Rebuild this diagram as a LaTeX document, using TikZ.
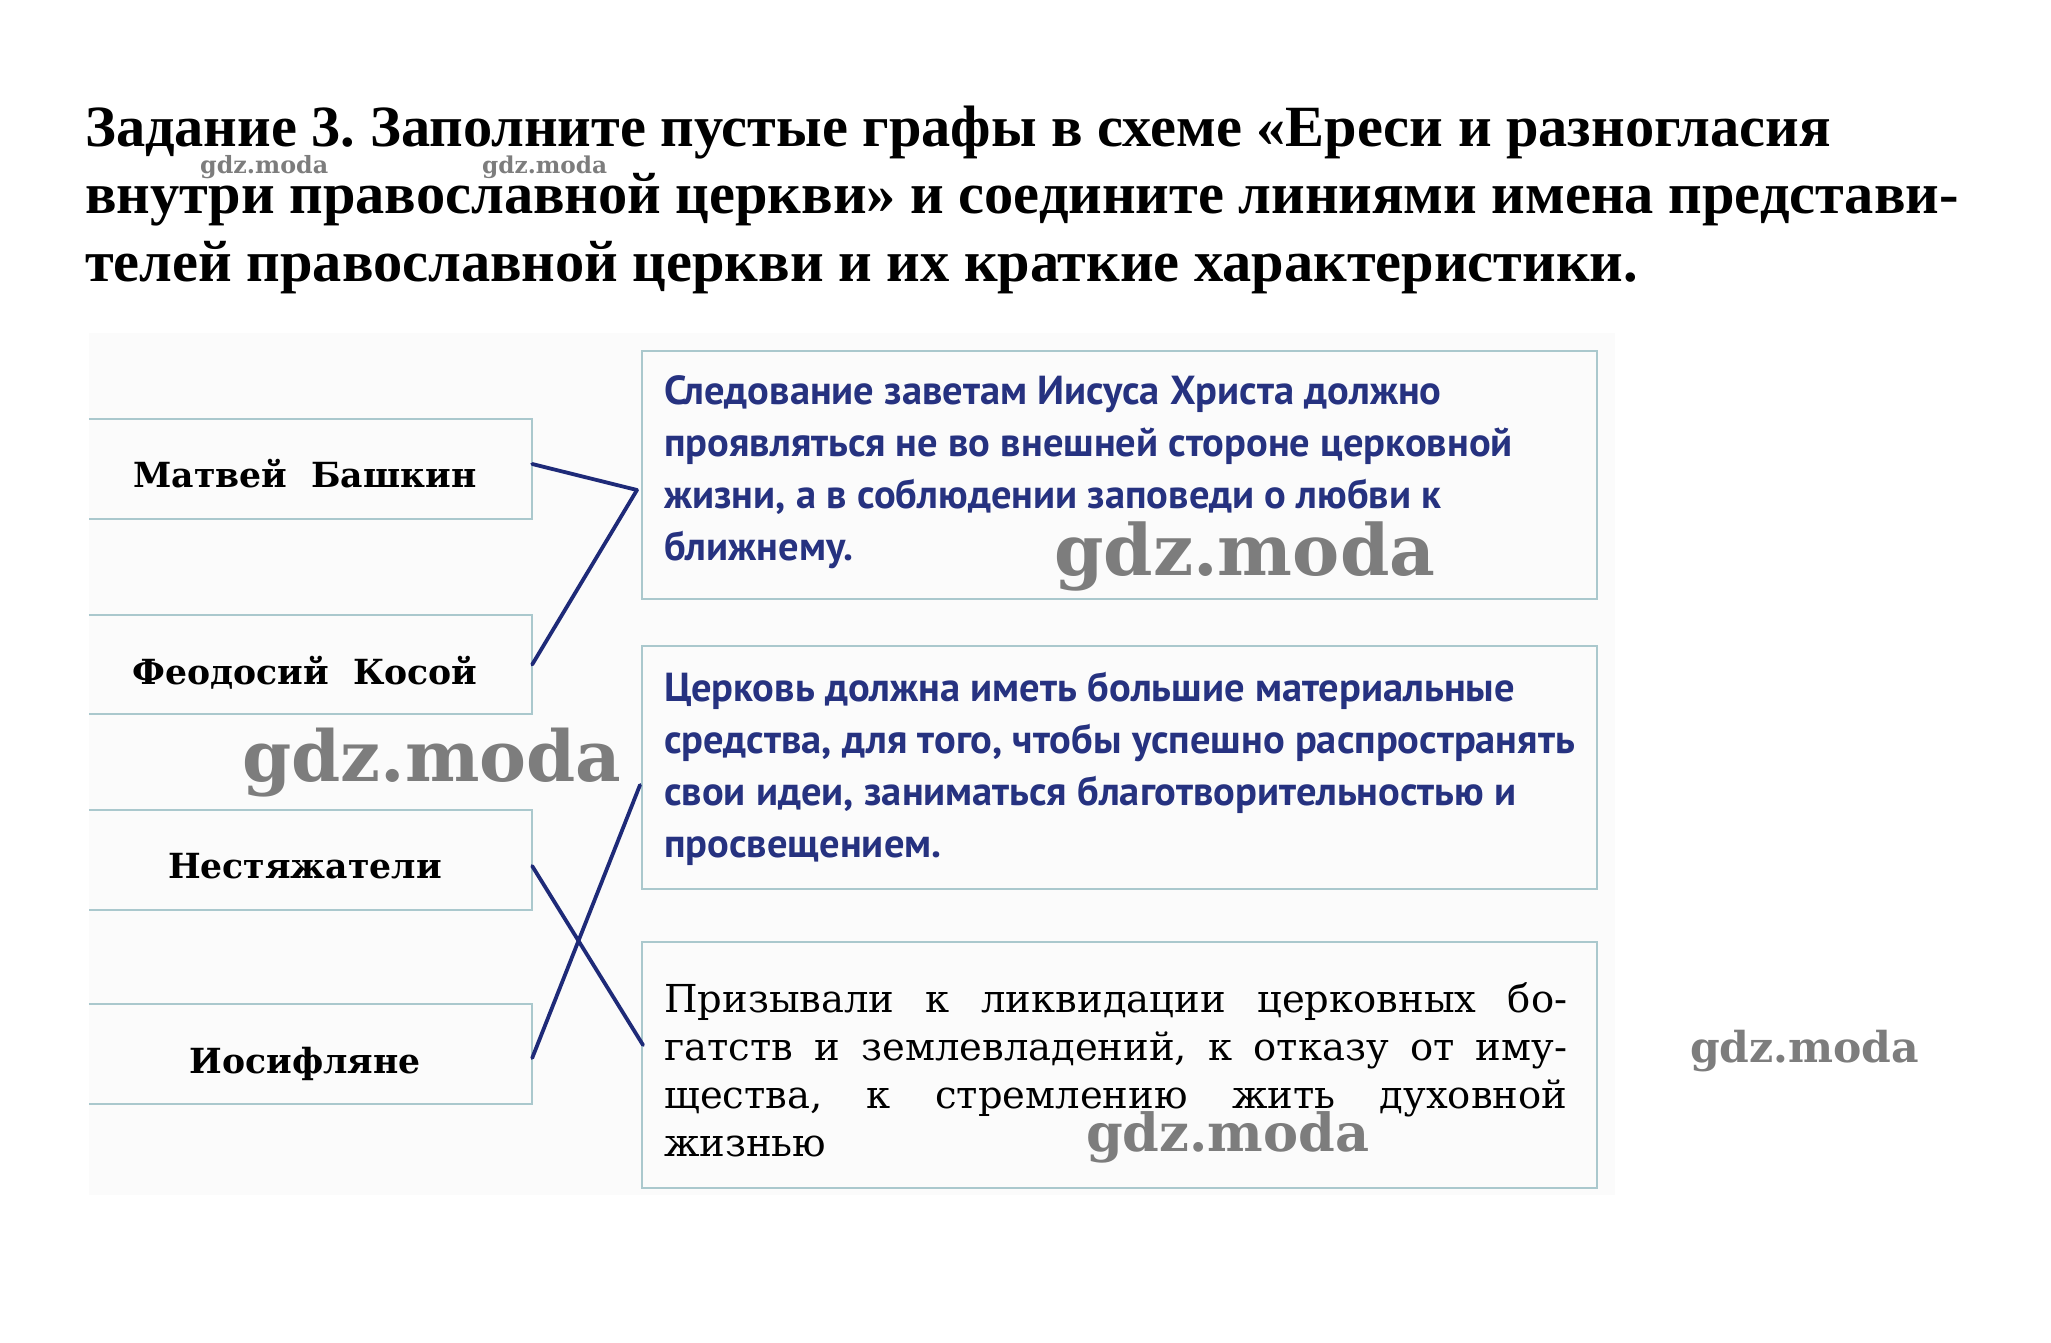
\documentclass[tikz,border=0pt]{standalone}
\usepackage{fontspec}
\setmainfont{Liberation Serif}
\newfontfamily\titlefont{Liberation Serif}
\newfontfamily\namefont{DejaVu Serif}
\newfontfamily\bluefont{PT Sans}
\newfontfamily\wmfont{DejaVu Serif}
\definecolor{boxcol}{RGB}{170,200,205}
\definecolor{bluetext}{RGB}{38,50,128}
\definecolor{linkcol}{RGB}{30,42,120}
\definecolor{bgcol}{RGB}{251,251,251}
\definecolor{wmcol}{RGB}{125,125,125}
\frenchspacing
\tikzset{
  leftbox/.style={minimum width=443pt, minimum height=99pt, inner sep=0pt, draw=none},
  rightbox/.style={minimum width=955pt, inner sep=0pt, draw=boxcol, line width=2.2pt},
  boxline/.style={draw=boxcol, line width=2.2pt},
  link/.style={draw=linkcol, line width=3.8pt, line cap=round},
  nametext/.style={anchor=base, inner sep=0pt, font=\namefont\bfseries\fontsize{34.6}{40}\selectfont},
  titletext/.style={anchor=base west, inner sep=0pt, font=\titlefont\bfseries\fontsize{58.4}{68}\selectfont},
  bluetxt/.style={anchor=base west, inner sep=0pt, align=left, text=bluetext, font=\bluefont\bfseries\fontsize{40.5}{51.7}\selectfont},
  wm/.style={anchor=base west, inner sep=0pt, text=wmcol, font=\wmfont\bfseries},
}
\begin{document}
\frenchspacing
\begin{tikzpicture}[x=1pt,y=-1pt]
\useasboundingbox (0,0) rectangle (2051,1342);
\fill[white] (0,0) rectangle (2051,1342);
\fill[bgcol] (89,333) rectangle (1615,1195);

% title
\node[titletext] (t1) at (85,146) {\frenchspacing Задание 3. Заполните пустые графы в схеме «Ереси и разногласия};
\node[titletext] (t2) at (85,213) {внутри православной церкви» и соедините линиями имена представи-};
\node[titletext] (t3) at (85,281) {телей православной церкви и их краткие характеристики.};

% left boxes
\node[leftbox] (m1) at (310.5,469) {};
\node[leftbox] (m2) at (310.5,664.5) {};
\node[leftbox] (m3) at (310.5,860) {};
\node[leftbox] (m4) at (310.5,1054) {};
\foreach \b in {m1,m2,m3,m4}{
  \draw[boxline] (\b.north west) -- (\b.north east) -- (\b.south east) -- (\b.south west);
}
\node[nametext] (n1) at (305,487) {Матвей\ \ Башкин};
\node[nametext] (n2) at (305,684) {Феодосий\ \ Косой};
\node[nametext] (n3) at (305,878) {Нестяжатели};
\node[nametext] (n4) at (305,1073) {Иосифляне};

% right boxes
\node[rightbox, minimum height=248pt] (A) at (1119.5,475) {};
\node[rightbox, minimum height=243pt] (B) at (1119.5,767.5) {};
\node[rightbox, minimum height=246pt] (C) at (1119.5,1065) {};

\node[bluetxt] (ta) at (664,560) {Следование заветам Иисуса Христа должно\\проявляться не во внешней стороне церковной\\жизни, а в соблюдении заповеди о любви к\\ближнему.};
\node[bluetxt] (tb) at (664,857) {Церковь должна иметь большие материальные\\средства, для того, чтобы успешно распространять\\свои идеи, заниматься благотворительностью и\\просвещением.};

\node[anchor=base west, inner sep=0pt, align=left, font=\namefont\fontsize{38.5}{48}\selectfont] (tc) at (664,1156)
 {\makebox[903pt][s]{Призывали к ликвидации церковных бо-}\\
  \makebox[903pt][s]{гатств и землевладений, к отказу от иму-}\\
  \makebox[903pt][s]{щества, к стремлению жить духовной}\\
  жизнью};

% connectors
\coordinate (pA) at (637,490);
\coordinate (pB) at (640,785);
\coordinate (pC) at (643,1045);
\draw[link] ([yshift=5pt]m1.east) -- (pA);
\draw[link] (m2.east) -- (pA);
\draw[link] ([yshift=-6pt]m3.east) -- (pC);
\draw[link] ([yshift=-4pt]m4.east) -- (pB);

% watermarks
\node[wm] (w1) at (200,173) {\resizebox{128pt}{!}{gdz.moda}};
\node[wm] (w2) at (482,173) {\resizebox{125pt}{!}{gdz.moda}};
\node[wm] (w3) at (1054,575) {\resizebox{381pt}{!}{gdz.moda}};
\node[wm] (w4) at (242,781) {\resizebox{379pt}{!}{gdz.moda}};
\node[wm] (w5) at (1690,1062) {\resizebox{229pt}{!}{gdz.moda}};
\node[wm] (w6) at (1086,1151) {\resizebox{283pt}{!}{gdz.moda}};
\end{tikzpicture}
\end{document}
